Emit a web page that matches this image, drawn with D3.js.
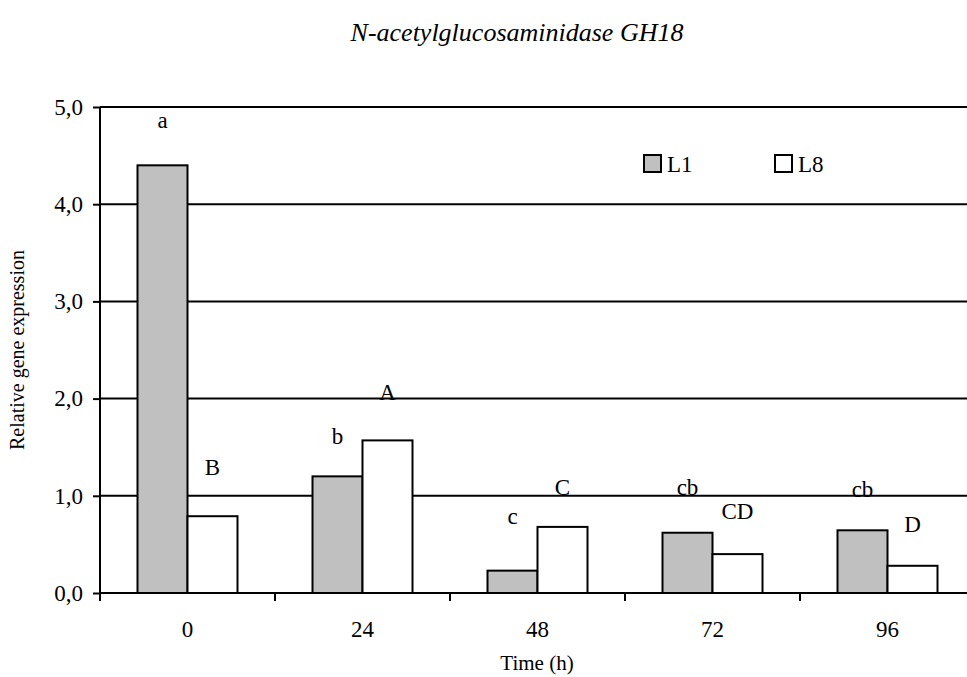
<!DOCTYPE html>
<html>
<head>
<meta charset="utf-8">
<script src="https://cdn.jsdelivr.net/npm/d3@7"></script>
<style>
body{margin:0;background:#fff}
text{font-family:"Liberation Serif","Times New Roman",serif;fill:#000}
</style>
</head>
<body>
<div id="chart"></div>
<script>
// data
var times = ["0","24","48","72","96"]
var series = ["L1","L8"]
var valuesL1 = [4.40, 1.20, 0.23, 0.62, 0.645]
var valuesL8 = [0.79, 1.57, 0.68, 0.40, 0.28]
var lettersL1 = ["a","b","c","cb","cb"]
var lettersL8 = ["B","A","C","CD","D"]
// height (in chart units) of the letter above each bar
var letterYL1 = [4.87, 1.62, 0.79, 1.09, 1.07]
var letterYL8 = [1.30, 2.07, 1.09, 0.84, 0.71]
var yTicks = [0,1,2,3,4,5]

function drawChart(where){
	var W = 967, H = 677
	var pLeft = 100, pRight = 975, pTop = 107, pBottom = 593
	var fills = {L1:"#c0c0c0", L8:"#ffffff"}

	var svg = d3.select(where).append("svg").attr("width",W).attr("height",H)

	var x = d3.scaleBand().domain(times).range([pLeft,pRight]).padding(0)
	// the two bars fill 100px in the middle of each 175px band
	var xs = d3.scaleBand().domain(series).range([37.5,137.5]).padding(0)
	var y = d3.scaleLinear().domain([0,5]).range([pBottom,pTop])

	// gridlines
	svg.append("g").selectAll("line").data(yTicks.slice(1)).join("line")
		.attr("x1",pLeft).attr("x2",pRight)
		.attr("y1",function(d){return y(d)}).attr("y2",function(d){return y(d)})
		.attr("stroke","#000").attr("stroke-width",2)

	var flat = []
	times.forEach(function(t,i){
		flat.push({t:t,s:"L1",v:valuesL1[i],lab:lettersL1[i],ly:letterYL1[i]})
		flat.push({t:t,s:"L8",v:valuesL8[i],lab:lettersL8[i],ly:letterYL8[i]})
	})

	// bars
	svg.append("g").selectAll("rect").data(flat).join("rect")
		.attr("x",function(d){return x(d.t)+xs(d.s)})
		.attr("width",xs.bandwidth())
		.attr("y",function(d){return y(d.v)})
		.attr("height",function(d){return y(0)-y(d.v)})
		.attr("fill",function(d){return fills[d.s]})
		.attr("stroke","#000").attr("stroke-width",2)

	// letters
	svg.append("g").selectAll("text").data(flat).join("text")
		.attr("x",function(d){return x(d.t)+xs(d.s)+xs.bandwidth()/2})
		.attr("y",function(d){return y(d.ly)})
		.attr("dy","0.35em")
		.attr("text-anchor","middle")
		.style("font-size","23px")
		.text(function(d){return d.lab})

	// y axis
	var yAxis = svg.append("g").attr("transform","translate("+pLeft+",0)")
		.call(d3.axisLeft(y).tickValues(yTicks).tickSize(7).tickPadding(10)
			.tickFormat(function(d){return d3.format(".1f")(d).replace(".",",")}))
	yAxis.select(".domain").remove()
	yAxis.selectAll(".tick line").attr("stroke","#000").attr("stroke-width",2)
	yAxis.selectAll(".tick text").style("font-size","23px")
	yAxis.attr("font-family",null).attr("font-size",null)
	svg.append("line").attr("x1",pLeft).attr("x2",pLeft).attr("y1",pTop).attr("y2",pBottom+8)
		.attr("stroke","#000").attr("stroke-width",2)

	// x axis
	svg.append("line").attr("x1",pLeft).attr("x2",pRight).attr("y1",pBottom).attr("y2",pBottom)
		.attr("stroke","#000").attr("stroke-width",2)
	svg.append("g").selectAll("line").data(times.slice(1)).join("line")
		.attr("x1",function(d){return x(d)}).attr("x2",function(d){return x(d)})
		.attr("y1",pBottom).attr("y2",pBottom+8)
		.attr("stroke","#000").attr("stroke-width",2)
	svg.append("g").selectAll("text").data(times).join("text")
		.attr("x",function(d){return x(d)+x.bandwidth()/2})
		.attr("y",pBottom+44)
		.attr("text-anchor","middle")
		.style("font-size","23px")
		.text(function(d){return d})

	// axis titles
	svg.append("text").attr("x",537).attr("y",670)
		.attr("text-anchor","middle").style("font-size","21px").text("Time (h)")
	svg.append("text").attr("transform","translate(24,350) rotate(-90)")
		.attr("text-anchor","middle").style("font-size","20px").text("Relative gene expression")

	// title
	svg.append("text").attr("x",517).attr("y",41)
		.attr("text-anchor","middle").style("font-size","26px").style("font-style","italic")
		.text("N-acetylglucosaminidase GH18")

	// legend
	var leg = svg.append("g").selectAll("g").data(series).join("g")
		.attr("transform",function(d,i){return "translate("+(644+i*131)+",155)"})
	leg.append("rect").attr("width",17).attr("height",17)
		.attr("fill",function(d){return fills[d]}).attr("stroke","#000").attr("stroke-width",2)
	leg.append("text").attr("x",23).attr("y",17).style("font-size","23px").text(function(d){return d})
}

drawChart("#chart")
</script>
</body>
</html>
